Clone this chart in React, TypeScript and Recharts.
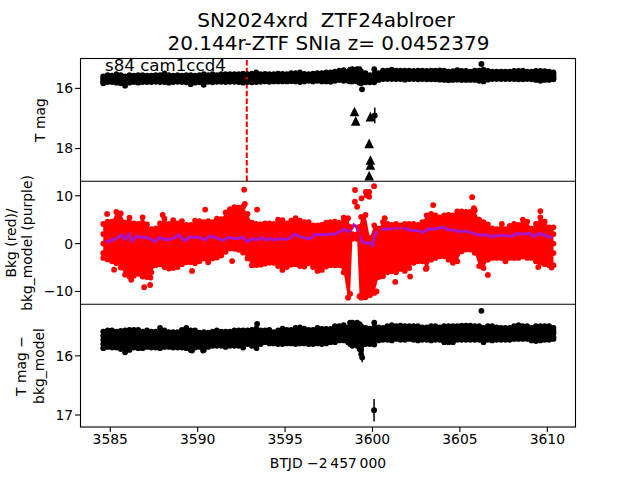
import React from "react";
import { ComposedChart, Area, Line, XAxis, YAxis, ReferenceLine, ErrorBar } from "recharts";

const FONT = "'DejaVu Sans', sans-serif";
const XT = [3585, 3590, 3595, 3600, 3605, 3610];
const XDOM: [number, number] = [3583.27, 3611.64];

const days = [
  3584.6, 3584.85, 3585.1, 3585.35, 3585.6, 3585.85, 3586.1, 3586.35, 3586.6, 3586.85,
  3587.1, 3587.35, 3587.6, 3587.85, 3588.1, 3588.35, 3588.6, 3588.85, 3589.1, 3589.35,
  3589.6, 3589.85, 3590.1, 3590.35, 3590.6, 3590.85, 3591.1, 3591.35, 3591.6, 3591.85,
  3592.1, 3592.35, 3592.6, 3592.85, 3593.1, 3593.35, 3593.6, 3593.85, 3594.1, 3594.35,
  3594.6, 3594.85, 3595.1, 3595.35, 3595.6, 3595.85, 3596.1, 3596.35, 3596.6, 3596.85,
  3597.1, 3597.35, 3597.6, 3597.85, 3598.1, 3598.35, 3598.6, 3598.72, 3598.85, 3599.12, 3599.26, 3599.35,
  3599.6, 3599.85, 3600.1, 3600.35, 3600.6, 3600.85, 3601.1, 3601.35, 3601.6, 3601.85,
  3602.1, 3602.35, 3602.6, 3602.85, 3603.1, 3603.35, 3603.6, 3603.85, 3604.1, 3604.35,
  3604.6, 3604.85, 3605.1, 3605.35, 3605.6, 3605.85, 3606.1, 3606.35, 3606.6, 3606.85,
  3607.1, 3607.35, 3607.6, 3607.85, 3608.1, 3608.35, 3608.6, 3608.85, 3609.1, 3609.35,
  3609.6, 3609.85, 3610.1, 3610.35,
];

const magTop = [
  15.6, 15.56, 15.58, 15.53, 15.56, 15.6, 15.56, 15.58, 15.56, 15.56,
  15.58, 15.58, 15.56, 15.56, 15.5, 15.56, 15.58, 15.56, 15.58, 15.56,
  15.56, 15.58, 15.56, 15.53, 15.56, 15.53, 15.56, 15.53, 15.53, 15.53,
  15.53, 15.53, 15.51, 15.53, 15.51, 15.47, 15.53, 15.52, 15.53, 15.53,
  15.51, 15.52, 15.53, 15.49, 15.49, 15.47, 15.52, 15.53, 15.51, 15.49,
  15.49, 15.47, 15.47, 15.44, 15.41, 15.39, 15.44, 15.38, 15.36, 15.36, 15.36, 15.44,
  15.49, 15.56, 15.36, 15.49, 15.41, 15.41, 15.38, 15.41, 15.41, 15.41,
  15.41, 15.42, 15.41, 15.41, 15.42, 15.41, 15.41, 15.4, 15.41, 15.44,
  15.43, 15.39, 15.42, 15.42, 15.44, 15.41, 15.41, 15.38, 15.42, 15.44,
  15.44, 15.44, 15.44, 15.44, 15.42, 15.42, 15.41, 15.44, 15.44, 15.42,
  15.42, 15.43, 15.44, 15.47,
];
const magBottom = [
  15.83, 15.79, 15.79, 15.81, 15.83, 15.91, 15.81, 15.79, 15.81, 15.79,
  15.79, 15.79, 15.78, 15.79, 15.79, 15.81, 15.79, 15.78, 15.79, 15.8,
  15.86, 15.81, 15.8, 15.88, 15.78, 15.8, 15.78, 15.78, 15.79, 15.78,
  15.78, 15.79, 15.81, 15.79, 15.8, 15.79, 15.78, 15.77, 15.78, 15.77,
  15.77, 15.77, 15.77, 15.76, 15.77, 15.79, 15.77, 15.75, 15.77, 15.75,
  15.77, 15.77, 15.78, 15.75, 15.72, 15.75, 15.75, 15.77, 15.77, 15.77, 15.81, 15.83,
  15.8, 15.8, 15.8, 15.72, 15.69, 15.69, 15.69, 15.69, 15.69, 15.71,
  15.69, 15.69, 15.7, 15.69, 15.7, 15.7, 15.7, 15.71, 15.72, 15.73,
  15.72, 15.71, 15.72, 15.72, 15.72, 15.72, 15.75, 15.77, 15.71, 15.69,
  15.69, 15.69, 15.69, 15.69, 15.69, 15.7, 15.7, 15.69, 15.7, 15.72,
  15.75, 15.72, 15.72, 15.7,
];
const magDots = [
  { x: 3584.6, y: 15.66 }, { x: 3584.6, y: 15.72 }, { x: 3584.6, y: 15.78 },
  { x: 3599.4, y: 16.03 }, { x: 3606.23, y: 15.19 },
  { x: 3610.35, y: 15.53 }, { x: 3610.35, y: 15.6 }, { x: 3610.35, y: 15.66 },
];
const magPoint = [{ x: 3600.13, y: 16.9, e: 0.26 }];
const limits = [
  { x: 3598.97, y: 16.77 }, { x: 3599.04, y: 17.08 }, { x: 3599.88, y: 16.94 },
  { x: 3599.81, y: 17.83 }, { x: 3599.88, y: 18.38 }, { x: 3599.88, y: 18.55 }, { x: 3599.81, y: 18.9 },
];

const bkgTop = [
  4.1, 4.6, 4.6, 6.6, 6.3, 4.4, 5.4, 4.2, 4.1, 5.5,
  4.0, 3.0, 3.2, 4.2, 5.2, 4.1, 4.9, 4.2, 4.7, 3.9,
  3.9, 4.8, 4.7, 4.5, 4.7, 4.5, 5.2, 5.1, 6.5, 7.2,
  7.6, 7.5, 7.7, 6.2, 4.4, 4.1, 4.0, 4.2, 4.2, 4.1,
  5.0, 4.9, 4.2, 4.8, 5.3, 4.8, 4.5, 4.5, 3.8, 3.8,
  3.9, 4.4, 4.5, 4.6, 4.3, 5.4, 5.3, 3.5, 2.0, 2.0, 3.5, 5.6,
  6.0, 1.2, 3.8, 3.1, 4.5, 4.1, 3.9, 4.1, 3.8, 4.1,
  4.1, 4.1, 3.9, 4.5, 5.9, 6.2, 5.9, 5.5, 5.9, 6.0,
  5.9, 6.75, 6.75, 6.6, 6.6, 6.9, 5.0, 4.5, 4.0, 3.2,
  3.0, 3.1, 3.0, 3.7, 4.1, 3.9, 5.0, 4.6, 3.1, 4.1,
  5.5, 4.6, 3.4, 3.4,
];
const bkgBottom = [
  -3.0, -3.3, -3.7, -4.1, -5.0, -6.5, -6.9, -6.7, -6.3, -6.9,
  -7.0, -6.0, -4.5, -4.3, -4.9, -5.2, -5.1, -4.9, -4.3, -3.9,
  -3.9, -4.1, -3.7, -3.1, -3.9, -3.1, -2.9, -2.5, -1.7, -1.0,
  -1.1, -1.3, -1.9, -3.1, -4.5, -4.5, -4.4, -4.2, -4.0, -4.0,
  -4.7, -5.5, -4.9, -4.4, -4.3, -4.7, -4.8, -4.1, -4.9, -5.7,
  -5.5, -4.8, -4.5, -4.5, -4.5, -6.0, -11.3, -10.5, 1.0, 1.0, -11.0, -11.3,
  -11.2, -10.8, -10.3, -7.0, -6.8, -6.0, -5.8, -6.0, -5.3, -5.7,
  -5.1, -4.0, -3.7, -3.7, -5.1, -3.35, -3.0, -2.65, -2.65, -3.35,
  -4.0, -3.7, -1.6, -1.25, -1.25, -1.95, -4.7, -5.1, -3.35, -3.0,
  -3.0, -3.0, -3.7, -3.0, -3.0, -3.0, -2.7, -3.0, -3.0, -3.7,
  -4.0, -4.3, -4.5, -4.5,
];
const bkgDots = [
  { x: 3584.6, y: 2 }, { x: 3584.6, y: 0 }, { x: 3584.6, y: -2 },
  { x: 3592.66, y: 11.26 }, { x: 3592.7, y: 8.3 }, { x: 3593.4, y: 7.1 }, { x: 3590.43, y: 7.1 },
  { x: 3588.0, y: 6 }, { x: 3584.82, y: 6.2 }, { x: 3585.22, y: -5.45 }, { x: 3586.94, y: -9.1 },
  { x: 3587.28, y: -8.65 }, { x: 3589.68, y: -5.7 }, { x: 3591.97, y: -3.65 }, { x: 3586.2, y: -7.55 },
  { x: 3587.3, y: -7.1 }, { x: 3599.0, y: 11.2 }, { x: 3598.99, y: 8.76 }, { x: 3599.12, y: 7.7 },
  { x: 3599.37, y: 9.45 }, { x: 3599.66, y: 10.1 }, { x: 3599.81, y: 10.8 }, { x: 3600.09, y: 12.0 },
  { x: 3599.81, y: 9.8 }, { x: 3599.62, y: 10.8 }, { x: 3600.7, y: 5.3 }, { x: 3605.7, y: 9.7 },
  { x: 3603.47, y: 8.05 }, { x: 3605.8, y: 7.4 }, { x: 3609.6, y: 6.8 }, { x: 3607.4, y: 4.1 },
  { x: 3606.6, y: -6.55 }, { x: 3602.15, y: -6.9 }, { x: 3601.3, y: -8 }, { x: 3603.05, y: -5.3 },
  { x: 3609.48, y: -4.9 }, { x: 3610.24, y: -5 }, { x: 3600.23, y: -10 },
  { x: 3610.35, y: 2 }, { x: 3610.35, y: 0 }, { x: 3610.35, y: -2 },
];

const modelDays = [
  3584.55, 3584.74, 3584.99, 3585.24, 3585.51, 3585.64, 3585.83, 3586.06, 3586.25, 3586.5, 3586.75, 3587.0, 3587.24,
  3587.57, 3587.83, 3588.08, 3588.33, 3588.6, 3588.9, 3589.26, 3589.55, 3589.83, 3590.12, 3590.41, 3590.69, 3590.98,
  3591.26, 3591.49, 3591.74, 3592.03, 3592.31, 3592.6, 3592.83, 3593.13, 3593.36, 3593.65, 3593.9, 3594.13, 3594.41,
  3594.7, 3594.98, 3595.27, 3595.55, 3595.84, 3596.22, 3596.41, 3596.7, 3596.99, 3597.56,
  3597.84, 3598.13, 3598.4, 3598.61, 3598.74, 3598.93, 3599.08, 3599.27, 3599.41, 3599.65, 3599.85, 3600.0, 3600.13,
  3600.32, 3600.61, 3600.89, 3601.18, 3601.47, 3601.75, 3602.04, 3602.32, 3602.61, 3602.9, 3603.18, 3603.47, 3603.75,
  3604.04, 3604.33, 3604.61, 3604.9, 3605.18, 3605.47, 3605.76, 3606.04, 3606.52, 3606.81, 3607.09, 3607.38, 3607.66,
  3608.04, 3608.23, 3608.52, 3609.0, 3609.22, 3609.57, 3609.95, 3610.33,
];
const modelVals = [
  -0.11, 0.24, 0.6, 0.88, 1.44, 1.8, 0.88, 1.94, 0.53, 1.59, 1.3, 1.3, 1.09,
  0.39, 1.3, 0.88, 0.88, 1.09, 1.8, 0.6, 1.44, 1.3, 1.3, 0.74, 1.59, 1.3,
  0.88, 0.74, 1.3, 1.09, 1.09, 1.3, 0.39, 1.09, 0.74, 1.3, 0.74, 1.09, 0.74,
  1.09, 0.88, 1.09, 2.0, 1.44, 1.09, 0.95, 1.94, 1.8, 1.94,
  2.0, 2.5, 3.0, 2.5, 2.7, 3.9, 3.56, 1.45, 0.39, 0.03, 0.17, -0.32, 1.8,
  3.07, 3.0, 3.0, 3.35, 3.2, 3.42, 2.86, 2.7, 2.7, 2.29, 3.07, 3.0, 3.2,
  3.42, 2.86, 2.86, 2.5, 2.65, 2.5, 2.15, 1.8, 1.8, 1.45, 1.66, 1.8, 1.59,
  1.59, 2.15, 1.94, 2.15, 1.45, 2.15, 1.59, 1.3,
];

const diffTop = [
  15.59, 15.57, 15.57, 15.59, 15.58, 15.57, 15.56, 15.56, 15.56, 15.59,
  15.57, 15.59, 15.59, 15.53, 15.57, 15.6, 15.6, 15.6, 15.56, 15.53,
  15.57, 15.57, 15.61, 15.6, 15.61, 15.59, 15.57, 15.59, 15.59, 15.59,
  15.57, 15.57, 15.57, 15.57, 15.56, 15.54, 15.57, 15.57, 15.56, 15.6,
  15.57, 15.54, 15.56, 15.56, 15.53, 15.52, 15.54, 15.56, 15.56, 15.53,
  15.545, 15.545, 15.545, 15.5, 15.5, 15.48, 15.52, 15.44, 15.44, 15.44, 15.465, 15.5,
  15.53, 15.54, 15.44, 15.52, 15.53, 15.5, 15.48, 15.5, 15.49, 15.5,
  15.5, 15.5, 15.5, 15.52, 15.52, 15.5, 15.5, 15.52, 15.5, 15.5,
  15.5, 15.5, 15.49, 15.49, 15.49, 15.5, 15.5, 15.53, 15.5, 15.5,
  15.52, 15.53, 15.53, 15.53, 15.5, 15.48, 15.5, 15.5, 15.53, 15.5,
  15.5, 15.5, 15.5, 15.53,
];
const diffBottom = [
  15.87, 15.85, 15.86, 15.86, 15.885, 15.94, 15.9, 15.86, 15.87, 15.87,
  15.85, 15.86, 15.86, 15.87, 15.85, 15.85, 15.86, 15.86, 15.86, 15.87,
  15.9, 15.86, 15.85, 15.9, 15.85, 15.83, 15.83, 15.83, 15.85, 15.83,
  15.83, 15.83, 15.86, 15.8, 15.83, 15.83, 15.8, 15.77, 15.79, 15.79,
  15.8, 15.8, 15.79, 15.79, 15.8, 15.79, 15.79, 15.8, 15.8, 15.79,
  15.8, 15.79, 15.77, 15.77, 15.74, 15.74, 15.77, 15.8, 15.83, 15.83, 15.885, 15.97,
  15.8, 15.8, 15.81, 15.74, 15.73, 15.73, 15.74, 15.715, 15.73, 15.73,
  15.715, 15.73, 15.74, 15.73, 15.73, 15.74, 15.73, 15.73, 15.77, 15.77,
  15.77, 15.73, 15.73, 15.73, 15.73, 15.73, 15.73, 15.77, 15.73, 15.74,
  15.73, 15.73, 15.73, 15.73, 15.715, 15.715, 15.715, 15.715, 15.74, 15.75,
  15.74, 15.73, 15.73, 15.715,
];
const diffDots = [
  { x: 3584.6, y: 15.66 }, { x: 3584.6, y: 15.73 }, { x: 3584.6, y: 15.8 },
  { x: 3593.4, y: 15.46 }, { x: 3593.36, y: 15.87 }, { x: 3599.35, y: 15.9 },
  { x: 3606.23, y: 15.24 }, { x: 3589.68, y: 15.91 }, { x: 3590.31, y: 15.91 },
  { x: 3610.35, y: 15.58 }, { x: 3610.35, y: 15.62 }, { x: 3610.35, y: 15.68 },
];
const diffPoints = [
  { x: 3599.41, y: 16.03, e: 0.08 },
  { x: 3600.09, y: 16.92, e: 0.19 },
];

const band = (top: number[], bottom: number[]) =>
  days.map((x, i) => ({ x, hi: top[i], lo: bottom[i], range: [bottom[i], top[i]] }));
const modelRows = modelDays.map((x, i) => ({ x, y: modelVals[i] }));

const axisTick = { fontSize: 13.9, fontFamily: FONT, fill: "#000" };
const minus = (v: number) => String(v).replace("-", "\u2212");
const Tri = (p: any) => {
  const { cx, cy, index } = p;
  return <path key={index} d={`M${cx} ${cy - 4.8}L${cx + 4.8} ${cy + 4.8}L${cx - 4.8} ${cy + 4.8}Z`} fill="#000" />;
};

function Panel(props: any) {
  const { top, rows, color, dots, yDomain, yTicks, reversed, last, children } = props;
  const dot = { r: 2.9, fill: color, stroke: color, strokeWidth: 0 };
  return (
    <div style={{ position: "absolute", left: 0, top }}>
      <ComposedChart
        width={640}
        height={last ? 176 : 123}
        data={rows}
        margin={{ top: 0, right: 64, bottom: 0, left: 0 }}
      >
        <XAxis
          dataKey="x"
          type="number"
          domain={XDOM}
          ticks={XT}
          hide={!last}
          height={53}
          interval={0}
          axisLine={false}
          tickSize={4.9}
          tickMargin={2}
          tick={axisTick}
          tickLine={{ stroke: "#000", strokeWidth: 1.1 }}
        />
        <YAxis
          type="number"
          width={80}
          domain={yDomain}
          ticks={yTicks}
          reversed={reversed}
          interval={0}
          axisLine={false}
          tickSize={4.9}
          tickMargin={2}
          tick={axisTick}
          tickLine={{ stroke: "#000", strokeWidth: 1.1 }}
          tickFormatter={minus}
        />
        <Area dataKey="range" fill={color} fillOpacity={1} stroke="none" dot={false} activeDot={false} isAnimationActive={false} />
        <Line dataKey="hi" stroke="none" dot={dot} activeDot={false} isAnimationActive={false} />
        <Line dataKey="lo" stroke="none" dot={dot} activeDot={false} isAnimationActive={false} />
        <Line data={dots} dataKey="y" stroke="none" dot={dot} activeDot={false} isAnimationActive={false} />
        {children}
      </ComposedChart>
    </div>
  );
}

const blackDot = { r: 2.9, fill: "#000", stroke: "#000", strokeWidth: 0 };

export default function App() {
  const t = { fontFamily: FONT, fill: "#000" };
  return (
    <div style={{ position: "absolute", left: 0, top: 0, width: 640, height: 480, background: "#fff", overflow: "hidden" }}>
      <Panel top={58} rows={band(magTop, magBottom)} color="#000" dots={magDots} yDomain={[14.99, 19.08]} yTicks={[16, 18]} reversed>
        <ReferenceLine x={3592.81} stroke="#f00" strokeWidth={2} strokeDasharray="5.5 2.2" />
        <Line data={limits} dataKey="y" stroke="none" dot={Tri} activeDot={false} isAnimationActive={false} />
        <Line data={magPoint} dataKey="y" stroke="none" dot={blackDot} activeDot={false} isAnimationActive={false}>
          <ErrorBar dataKey="e" width={0} stroke="#000" strokeWidth={1.5} direction="y" />
        </Line>
      </Panel>
      <Panel top={181} rows={band(bkgTop, bkgBottom)} color="#f00" dots={bkgDots} yDomain={[-12.62, 13.08]} yTicks={[-10, 0, 10]}>
        <Line data={modelRows} dataKey="y" stroke="#a914c9" strokeWidth={3} dot={false} activeDot={false} isAnimationActive={false} />
      </Panel>
      <Panel top={304} rows={band(diffTop, diffBottom)} color="#000" dots={diffDots} yDomain={[15.124, 17.203]} yTicks={[16, 17]} reversed last>
        <Line data={diffPoints} dataKey="y" stroke="none" dot={blackDot} activeDot={false} isAnimationActive={false}>
          <ErrorBar dataKey="e" width={0} stroke="#000" strokeWidth={1.5} direction="y" />
        </Line>
      </Panel>
      <svg width={640} height={480} style={{ position: "absolute", left: 0, top: 0, pointerEvents: "none" }}>
        <rect x={80.5} y={58.5} width={495} height={368.5} fill="none" stroke="#000" strokeWidth={1.1} />
        <line x1={80} x2={576} y1={181.3} y2={181.3} stroke="#000" strokeWidth={1.1} />
        <line x1={80} x2={576} y1={304.3} y2={304.3} stroke="#000" strokeWidth={1.1} />
        <text {...t} x={326} y={27} fontSize={20} textAnchor="middle" xmlSpace="preserve">SN2024xrd  ZTF24ablroer</text>
        <text {...t} x={328.5} y={49.5} fontSize={20} textAnchor="middle">20.144r-ZTF SNIa z= 0.0452379</text>
        <text {...t} x={105} y={71} fontSize={16.67}>s84 cam1ccd4</text>
        <text {...t} x={328} y={468} fontSize={13.9} textAnchor="middle">{"BTJD \u22122\u2009457\u2009000"}</text>
        <text {...t} fontSize={13.9} textAnchor="middle" transform="translate(45 120) rotate(-90)">T mag</text>
        <text {...t} fontSize={13.9} textAnchor="middle" transform="translate(16 243) rotate(-90)">Bkg (red)/</text>
        <text {...t} fontSize={13.9} textAnchor="middle" transform="translate(32 243) rotate(-90)">bkg_model (purple)</text>
        <text {...t} fontSize={13.9} textAnchor="middle" transform="translate(26 366) rotate(-90)">T mag −</text>
        <text {...t} fontSize={13.9} textAnchor="middle" transform="translate(44 366) rotate(-90)">bkg_model</text>
      </svg>
    </div>
  );
}
